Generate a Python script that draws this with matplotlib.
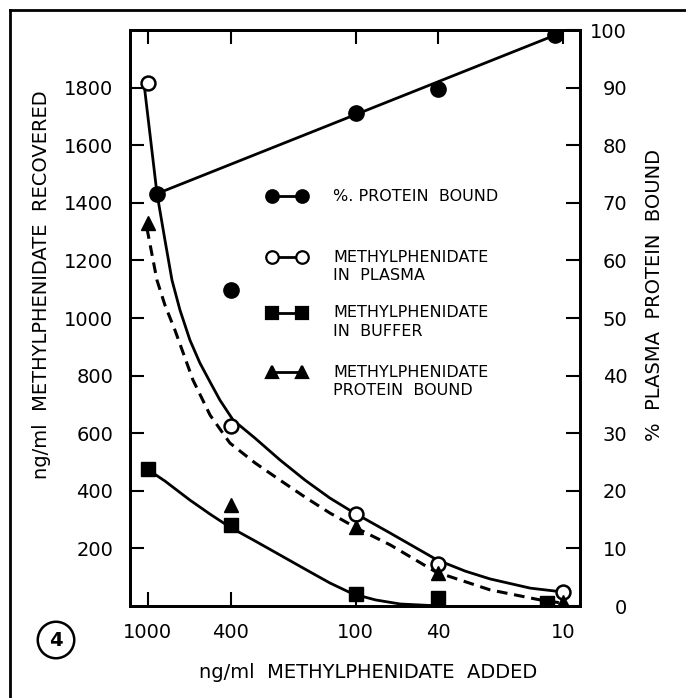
import matplotlib
matplotlib.use('Agg')
import matplotlib.pyplot as plt
from matplotlib.lines import Line2D

plt.rcParams['font.family'] = ['DejaVu Sans']

# concentrations added (ng/ml)
conc = [1000, 400, 100, 40, 10]
plasma = [1816, 625, 321, 146, 49]
bound = [1330, 351, 274, 115, 14]
buffer_x = [1000, 400, 100, 40, 12]
buffer_vals = [476, 281, 42, 28, 10]

# % protein bound (right axis)
pct_x = [905, 400, 100, 40, 11]
pct_bound = [71.6, 54.8, 85.7, 89.7, 99.1]

# hand drawn curves
plasma_curve_x = [1045, 905, 828, 766, 701, 628, 562, 502, 450, 389, 305, 231, 175, 133, 103,
                  68, 40.5, 29.6, 22.5, 14.4, 10.1]
plasma_curve_y = [1816, 1434, 1271, 1132, 1028, 924, 844, 778, 715, 646, 583, 507, 437, 375, 326,
                  253, 160, 121, 94, 62, 49]
bound_curve_x = [1011, 905, 828, 741, 671, 607, 502, 403, 305, 231, 175, 133, 95, 68, 41,
                 22.5, 12.9, 10.1]
bound_curve_y = [1312, 1132, 1045, 958, 872, 785, 663, 566, 497, 437, 378, 323, 264, 212, 118,
                 56, 21, 10]
buffer_curve_x = [1011, 828, 628, 502, 403, 305, 231, 175, 133, 103, 80, 61, 39]
buffer_curve_y = [476, 434, 368, 319, 274, 226, 177, 128, 80, 42, 21, 7, 0]

fig = plt.figure(figsize=(6.86, 6.98), dpi=100)
ax = fig.add_axes([0.1895, 0.1318, 0.656, 0.825])
ax2 = ax.twinx()

lw = 2.0
ax.plot(plasma_curve_x, plasma_curve_y, color='black', lw=lw, solid_joinstyle='round')
ax.plot(bound_curve_x, bound_curve_y, color='black', lw=2.2, linestyle=(0, (3.5, 2.2)))
ax.plot(buffer_curve_x, buffer_curve_y, color='black', lw=lw, solid_joinstyle='round')

ax.plot(conc, plasma, 'o', ms=10, mfc='white', mec='black', mew=1.8, zorder=5)
ax.plot(conc, bound, '^', ms=10, color='black', zorder=5)
ax.plot(buffer_x, buffer_vals, 's', ms=10, color='black', zorder=5)

# straight line through the % bound points
ax2.plot([pct_x[0], pct_x[-1]], [pct_bound[0], pct_bound[-1]], color='black', lw=lw)
ax2.plot(pct_x, pct_bound, 'o', ms=11, color='black', zorder=5)

ax.set_xscale('log')
ax.set_xlim(1220, 8.3)
ax.set_ylim(0, 2000)
ax2.set_ylim(0, 100)

ax.set_xticks(conc)
ax.set_xticklabels([str(c) for c in conc])
ax.xaxis.set_minor_locator(matplotlib.ticker.NullLocator())
ax.set_yticks([200, 400, 600, 800, 1000, 1200, 1400, 1600, 1800])
ax2.set_yticks(range(0, 101, 10))

ax.tick_params(axis='x', direction='in', length=10, width=1.5, top=True, labelsize=14, pad=12)
ax.tick_params(axis='y', direction='in', length=10, width=1.5, labelsize=14, pad=12)
ax2.tick_params(axis='y', direction='in', length=10, width=1.5, labelsize=14, pad=34)
for lab in ax2.get_yticklabels():
    lab.set_ha('right')

for a in (ax, ax2):
    for s in a.spines.values():
        s.set_linewidth(2)

# legend drawn by hand
rows = [('o', 'black', 'black', 0.712, '%. PROTEIN  BOUND'),
        ('o', 'white', 'black', 0.606, 'METHYLPHENIDATE\nIN  PLASMA'),
        ('s', 'black', 'black', 0.509, 'METHYLPHENIDATE\nIN  BUFFER'),
        ('^', 'black', 'black', 0.406, 'METHYLPHENIDATE\nPROTEIN  BOUND')]
for m, fc, ec, y, txt in rows:
    ax.plot([0.316, 0.382], [y, y], color='black', lw=2, marker=m, ms=9,
            mfc=fc, mec=ec, mew=1.6, transform=ax.transAxes, clip_on=False)
    ax.text(0.451, y + 0.013, txt, transform=ax.transAxes, fontsize=11.5,
            va='top', ha='left', linespacing=1.3)

fig.text(42 / 686, 1 - 285 / 698, 'ng/ml  METHYLPHENIDATE  RECOVERED', rotation=90,
         ha='center', va='center', fontsize=14)
fig.text(655 / 686, 1 - 295 / 698, '%  PLASMA  PROTEIN  BOUND', rotation=90,
         ha='center', va='center', fontsize=14)
fig.text(368 / 686, 1 - 672 / 698, 'ng/ml  METHYLPHENIDATE  ADDED',
         ha='center', va='center', fontsize=14)

# figure number in a circle
fig.text(56 / 686, 1 - 640 / 698, '4', ha='center', va='center', fontsize=14, fontweight='bold',
         bbox=dict(boxstyle='circle,pad=0.45', fc='white', ec='black', lw=1.8))

# page border (top and left)
fig.add_artist(Line2D([10 / 686, 1], [1 - 10 / 698, 1 - 10 / 698], color='black', lw=2))
fig.add_artist(Line2D([10 / 686, 10 / 686], [0, 1 - 10 / 698], color='black', lw=2))

fig.savefig('out.png', dpi=100)
